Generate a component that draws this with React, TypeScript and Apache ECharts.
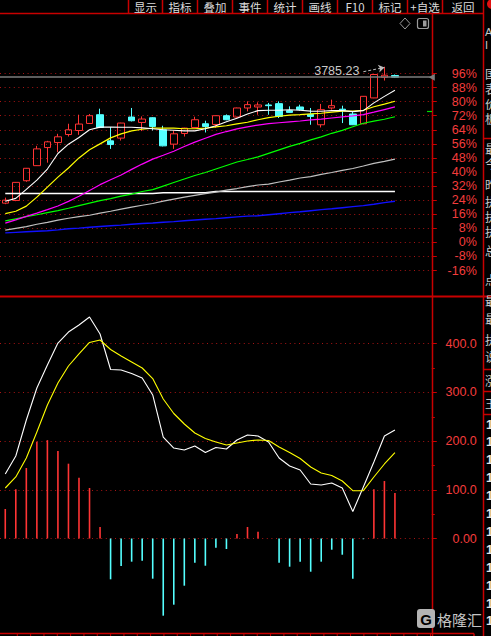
import React, { useEffect, useRef } from 'react';
import * as echarts from 'echarts';

// ---- data (top pane values are % change, bottom pane is the MACD-style indicator) ----
const days = ['D01','D02','D03','D04','D05','D06','D07','D08','D09','D10','D11','D12','D13','D14','D15','D16','D17','D18','D19','D20','D21','D22','D23','D24','D25','D26','D27','D28','D29','D30','D31','D32','D33','D34','D35','D36','D37','D38'];
const padSlots = ['P1', 'P2', 'P3'];

const opens = [22.29, 23.83, 35.03, 43.6, 53.89, 56.74, 61.31, 63.6, 67.6, 72.57, 57.71, 59.26, 71.26, 68.17, 70.86, 64.0, 55.83, 61.89, 65.31, 67.43, 67.03, 72.0, 71.26, 76.4, 76.97, 78.11, 78.86, 74.86, 76.97, 72.74, 66.86, 76.4, 75.71, 72.97, 67.43, 82.11, 93.89, 94.86];
const closes = [24.0, 34.11, 42.11, 53.14, 57.14, 60.0, 64.0, 67.26, 72.0, 65.31, 55.6, 67.83, 69.14, 70.11, 65.89, 54.86, 61.71, 64.97, 69.71, 65.89, 72.0, 69.71, 76.4, 78.29, 78.11, 77.71, 71.6, 73.89, 75.43, 71.6, 75.43, 77.71, 75.14, 66.86, 83.03, 95.43, 95.03, 93.89];
const lows = [21.71, 23.43, 34.46, 43.43, 45.31, 51.26, 60.17, 61.14, 67.43, 64.97, 53.14, 57.89, 68.74, 63.26, 63.6, 54.57, 53.14, 60.17, 65.14, 62.46, 65.14, 69.43, 70.86, 74.46, 72.57, 72.57, 70.69, 73.71, 74.86, 66.86, 65.31, 75.43, 67.83, 66.69, 67.14, 82.0, 92.0, 93.43];
const highs = [25.43, 34.29, 42.29, 54.86, 57.71, 61.71, 67.43, 72.57, 72.97, 76.0, 65.54, 68.0, 76.4, 71.6, 71.14, 66.29, 63.6, 65.14, 71.43, 69.14, 72.17, 72.74, 76.57, 80.17, 79.6, 79.26, 80.17, 77.31, 78.29, 76.4, 78.69, 81.14, 77.71, 74.46, 83.14, 95.6, 99.83, 95.43];

const ma5 = [23.4, 25.0, 30.1, 35.4, 41.7, 50.5, 55.8, 59.6, 64.0, 65.5, 65.5, 65.4, 65.4, 65.1, 64.6, 64.0, 63.7, 63.4, 63.4, 64.6, 66.3, 68.6, 70.6, 73.0, 74.9, 75.1, 75.1, 75.4, 75.1, 74.6, 74.5, 74.9, 74.9, 74.3, 74.9, 79.3, 83.0, 86.5];
const ma10 = [16.3, 17.7, 20.6, 25.7, 31.4, 37.1, 42.3, 48.0, 52.6, 56.0, 59.4, 61.7, 63.4, 64.3, 64.9, 65.0, 64.9, 64.6, 64.6, 64.9, 65.7, 66.3, 67.4, 68.3, 69.7, 70.9, 71.7, 72.3, 72.6, 73.1, 73.4, 74.0, 74.6, 74.6, 75.1, 77.1, 78.6, 80.2];
const ma20 = [10.9, 12.8, 14.8, 16.6, 18.6, 20.7, 23.3, 26.2, 29.5, 32.8, 35.6, 38.3, 41.5, 44.5, 47.3, 49.5, 51.8, 54.5, 57.0, 59.2, 61.4, 63.0, 64.5, 65.7, 66.7, 67.5, 68.0, 68.5, 69.0, 69.6, 70.1, 70.7, 71.3, 71.9, 72.6, 74.0, 75.5, 77.0];
const ma60 = [12.2, 13.4, 14.6, 15.7, 16.9, 18.0, 19.4, 20.9, 22.3, 23.7, 24.9, 26.3, 27.4, 28.9, 30.0, 32.0, 34.0, 36.0, 38.0, 39.7, 41.7, 43.7, 45.7, 47.1, 48.6, 50.6, 52.6, 54.6, 56.3, 58.3, 60.0, 62.0, 63.7, 65.7, 67.7, 68.9, 70.0, 71.4];
const ma120 = [7.0, 8.0, 8.9, 10.3, 11.4, 12.6, 13.7, 14.6, 15.4, 16.6, 17.7, 18.9, 20.0, 21.1, 22.1, 23.4, 24.6, 25.7, 26.7, 27.7, 28.6, 29.7, 30.6, 31.7, 32.6, 33.1, 34.3, 35.4, 36.6, 37.4, 38.6, 39.7, 40.9, 42.0, 43.4, 44.9, 46.0, 47.3];
const ma250 = [5.4, 5.7, 6.0, 6.3, 6.6, 7.1, 7.7, 8.1, 8.6, 9.0, 9.4, 9.8, 10.3, 10.7, 11.0, 11.4, 11.8, 12.3, 12.7, 13.1, 13.5, 14.0, 14.5, 14.9, 15.1, 15.7, 16.3, 16.9, 17.4, 18.0, 18.6, 19.1, 19.7, 20.3, 20.9, 21.7, 22.6, 23.4];
const baseLine = [27.8, 27.8, 27.8, 27.8, 27.8, 27.8, 27.8, 27.8, 27.8, 27.8, 27.8, 27.8, 27.8, 27.8, 27.8, 28.2, 28.2, 28.2, 28.2, 28.2, 28.9, 28.9, 28.9, 28.9, 28.9, 28.9, 28.9, 28.9, 28.9, 28.9, 28.9, 28.9, 28.9, 28.9, 28.9, 28.9, 28.9, 28.9];

const dif = [132.4, 169.4, 243.3, 309.0, 356.3, 401.4, 424.0, 438.4, 454.8, 419.9, 347.0, 346.0, 338.8, 329.6, 294.7, 208.4, 185.8, 181.7, 189.9, 176.6, 186.9, 183.8, 202.3, 212.5, 210.5, 198.2, 165.3, 148.9, 140.7, 111.9, 109.9, 114.0, 103.7, 55.4, 105.7, 157.1, 210.5, 222.8];
const dea = [103.7, 126.3, 165.3, 218.7, 274.1, 319.3, 354.2, 378.9, 402.5, 407.6, 388.1, 374.7, 362.4, 350.1, 328.5, 286.4, 256.7, 235.1, 216.6, 205.3, 198.2, 192.0, 196.1, 200.2, 202.3, 201.2, 187.9, 176.6, 164.3, 146.8, 134.5, 129.4, 118.1, 98.2, 98.2, 126.3, 153.0, 176.2];
const hist = [60.6, 101, 144.8, 198.8, 202, 179.7, 153.6, 124.8, 103.7, 23.6, -83.8, -56.5, -47.6, -45.6, -82.5, -158.5, -135.9, -96.9, -49.7, -55.9, -18.9, -21.6, 9.2, 23.6, 14.0, 0, -49.7, -57.9, -47.6, -68.2, -47.6, -23.0, -33.3, -82.5, -1.5, 101, 118, 93.4];

const highLabel = '3785.23';
const toolbarItems = ['显示', '指标', '叠加', '事件', '统计', '画线', 'F10', '标记', '+自选', '返回'];
const sideChars = ['国', '表', '价', '板', '最', '今', '昨', '执', '执', '执', '总', '点', '最', '最', '执', '说', '涨', '王'];

const RED = '#ff3434';
const CYAN = '#54ffff';
const FRAME = '#c80000';
const DOT = '#a81414';
const LABEL = '#f43c3c';
const NUMFONT = '"Liberation Sans", Arial, sans-serif';
const CJK = '"Noto Sans CJK SC", sans-serif';

// pane geometry (pixels)
const TOP_TICK_TOP = 73.5;     // y of the 96% tick
const TOP_TICK_H = 197;        // height from 96% to -16%
const PX_PER_PCT = TOP_TICK_H / 112;

export default function App() {
  const ref = useRef<HTMLDivElement>(null);
  useEffect(() => {
    const chart = echarts.init(ref.current as HTMLDivElement, null, { renderer: 'svg' });
    const cats = [...days, ...padSlots];
    const pad = (arr: any[]) => [...arr, '-', '-', '-'];
    const candleData = days.map((_, i) => [opens[i], closes[i], lows[i], highs[i]]);
    const last = days.length - 1;
    const hiIdx = highs.indexOf(Math.max(...highs));

    const lineS = (name: string, data: number[], color: string, width = 1, idx = 0, extra: any = {}) => ({
      name, type: 'line', xAxisIndex: idx, yAxisIndex: idx, data: pad(data), symbol: 'none',
      silent: true, clip: false, lineStyle: { color, width }, z: 3, ...extra,
    });

    // decorative frame
    const g: any[] = [];
    const ln = (x1: number, y1: number, x2: number, y2: number, stroke = FRAME, lw = 1.5) =>
      g.push({ type: 'line', silent: true, shape: { x1, y1, x2, y2 }, style: { stroke, lineWidth: lw } });
    ln(0, 13.5, 483, 13.5);
    const seps = [128, 162, 197, 232, 267, 302, 337, 372, 407, 442, 483];
    seps.slice(0, -1).forEach((x) => ln(x + 0.5, 0, x + 0.5, 13));
    toolbarItems.forEach((t, i) => {
      g.push({ type: 'text', silent: true, x: (seps[i] + seps[i + 1]) / 2 + 0.5, y: 6.5,
        style: { text: t, fill: '#dcdcdc', font: '11.5px ' + CJK, align: 'center', textAlign: 'center', verticalAlign: 'middle', textVerticalAlign: 'middle' } });
    });
    ln(432.5, 13, 432.5, 636);
    ln(483.5, 0, 483.5, 636);
    ln(0, 296.5, 491, 296.5, FRAME, 2);
    ln(0, 633.5, 474, 633.5);
    ln(474, 633.5, 474, 636);
    for (let x = 17.3; x < 432; x += 13.33) ln(x, 633.5, x, 636, FRAME, 1);
    [138, 369, 391, 414].forEach((y) => ln(483, y + 0.5, 491, y + 0.5));
    ln(427, 111.5, 432, 111.5, '#00e000', 1.2);
    // right column (clipped list panel)
    g.push({ type: 'circle', silent: true, shape: { cx: 492, cy: 4, r: 5 }, style: { fill: '#e01010' } });
    g.push({ type: 'text', silent: true, x: 485, y: 32, style: { text: 'A', fill: '#c8c8c8', font: '11px ' + NUMFONT, verticalAlign: 'middle', textVerticalAlign: 'middle' } });
    g.push({ type: 'text', silent: true, x: 485, y: 45, style: { text: 'I', fill: '#c8c8c8', font: '11px ' + NUMFONT, verticalAlign: 'middle', textVerticalAlign: 'middle' } });
    const sideY = [73, 88, 103, 118, 148, 163, 184, 201, 216, 231, 250, 279, 300, 318, 339, 356, 380, 403];
    sideChars.forEach((c, i) => g.push({ type: 'text', silent: true, x: 485, y: sideY[i],
      style: { text: c, fill: '#c8c8c8', font: '12px ' + CJK, verticalAlign: 'middle', textVerticalAlign: 'middle' } }));
    for (let k = 0; k < 12; k++) g.push({ type: 'text', silent: true, x: 486, y: 424 + k * 17.9,
      style: { text: '1', fill: '#e6e6e6', font: 'bold 13px ' + NUMFONT, verticalAlign: 'middle', textVerticalAlign: 'middle' } });
    // icons
    g.push({ type: 'polygon', silent: true, shape: { points: [[405, 18], [410, 23.5], [405, 29], [400, 23.5]] }, style: { fill: 'none', stroke: '#9a9a9a', lineWidth: 1 } });
    g.push({ type: 'rect', silent: true, shape: { x: 417.5, y: 18.5, width: 11, height: 10, r: 2 }, style: { fill: 'none', stroke: '#9a9a9a', lineWidth: 1.2 } });
    g.push({ type: 'rect', silent: true, shape: { x: 423, y: 20.5, width: 3.5, height: 6 }, style: { fill: '#9a9a9a' } });
    // watermark
    g.push({ type: 'rect', silent: true, shape: { x: 417, y: 609, width: 18, height: 19, r: 3 }, style: { fill: '#b4b4b4' } });
    g.push({ type: 'text', silent: true, x: 426, y: 619, style: { text: 'G', fill: '#000', font: 'bold 15px ' + NUMFONT, align: 'center', textAlign: 'center', verticalAlign: 'middle', textVerticalAlign: 'middle' } });
    g.push({ type: 'text', silent: true, x: 437, y: 619, style: { text: '格隆汇', fill: '#c4c4c4', font: '15px ' + CJK, verticalAlign: 'middle', textVerticalAlign: 'middle' } });

    const option: any = {
      animation: false,
      backgroundColor: '#000',
      grid: [
        // data grid of the top pane: -32% .. 128%, same scale as the visible axis
        { left: -3.6, right: 59.2, top: TOP_TICK_TOP - 32 * PX_PER_PCT, height: 160 * PX_PER_PCT },
        { left: -3.6, right: 59.2, top: 343.7, height: 194.8 },
        // visible % axis of the top pane: -16% .. 96%
        { left: -3.6, right: 59.2, top: TOP_TICK_TOP, height: TOP_TICK_H },
      ],
      xAxis: [
        { type: 'category', data: cats, gridIndex: 0, boundaryGap: true, show: false },
        { type: 'category', data: cats, gridIndex: 1, boundaryGap: true, show: false },
        { type: 'category', data: cats, gridIndex: 2, boundaryGap: true, show: false },
      ],
      yAxis: [
        { type: 'value', gridIndex: 0, min: -32, max: 128, show: false, splitLine: { show: false } },
        {
          type: 'value', gridIndex: 1, position: 'right', min: 0, max: 400, interval: 100,
          axisLine: { show: false },
          axisTick: { show: true, length: 5, lineStyle: { color: FRAME, width: 1 } },
          minorTick: { show: true, splitNumber: 2, length: 3, lineStyle: { color: FRAME, width: 1 } },
          axisLabel: { color: LABEL, align: 'right', margin: 45, fontSize: 12.5, fontFamily: NUMFONT, formatter: (v: number) => (v === 0 ? '0.00' : v.toFixed(1)) },
          splitLine: { show: true, lineStyle: { color: DOT, type: [1, 3.6], width: 1 } },
        },
        {
          type: 'value', gridIndex: 2, position: 'right', min: -16, max: 96, interval: 8,
          axisLine: { show: false },
          axisTick: { show: true, length: 5, lineStyle: { color: FRAME, width: 1 } },
          axisLabel: { color: LABEL, align: 'right', margin: 45, fontSize: 12.5, fontFamily: NUMFONT, formatter: (v: number) => v + '%' },
          splitLine: { show: true, lineStyle: { color: DOT, type: [1, 3.6], width: 1 } },
        },
      ],
      series: [
        {
          type: 'candlestick', xAxisIndex: 0, yAxisIndex: 0, data: pad(candleData), barWidth: 7, clip: false, silent: true, z: 2,
          itemStyle: { color: 'transparent', color0: CYAN, borderColor: RED, borderColor0: CYAN, borderWidth: 1 },
          markLine: {
            silent: true, symbol: ['none', 'arrow'], symbolSize: 6,
            label: { show: false },
            lineStyle: { color: '#bdbdbd', width: 1, type: [3, 2] },
            data: [[{ coord: [hiIdx - 2, highs[hiIdx] - 2.8] }, { coord: [hiIdx, highs[hiIdx] - 0.4] }]],
          },
          markPoint: {
            silent: true, symbol: 'circle', symbolSize: 1, itemStyle: { color: 'transparent' },
            label: { show: true, position: 'left', distance: 5, offset: [-19.5, 4], color: '#c8c8c8', fontSize: 12.5, fontFamily: NUMFONT, formatter: highLabel },
            data: [{ coord: [hiIdx, highs[hiIdx]] }],
          },
        },
        lineS('baseline', baseLine, '#ffffff', 1.6, 0, {
          markLine: {
            silent: true, symbol: ['none', 'triangle'], symbolSize: [7, 6], symbolRotate: 90,
            label: { show: false },
            lineStyle: { color: '#7c7c7c', width: 1.6, type: 'solid' },
            data: [{ yAxis: closes[last] }],
          },
        }),
        lineS('MA250', ma250, '#1010ff', 1.4),
        lineS('MA120', ma120, '#c0c0c0', 1.2),
        lineS('MA60', ma60, '#00ff00', 1.2),
        lineS('MA20', ma20, '#ff00ff', 1.2),
        lineS('MA10', ma10, '#ffff00', 1.2),
        lineS('MA5', ma5, '#ffffff', 1.1),
        {
          name: 'MACD', type: 'bar', xAxisIndex: 1, yAxisIndex: 1, data: pad(hist), barWidth: 1.6, clip: false, silent: true,
          itemStyle: { color: (p: any) => (p.value >= 0 ? RED : CYAN) },
        },
        lineS('DIF', dif, '#ffffff', 1.1, 1),
        lineS('DEA', dea, '#ffff00', 1.1, 1),
      ],
      graphic: g,
    };
    chart.setOption(option);
    return () => chart.dispose();
  }, []);
  return <div ref={ref} style={{ position: 'fixed', left: 0, top: 0, width: 491, height: 636, background: '#000' }} />;
}
